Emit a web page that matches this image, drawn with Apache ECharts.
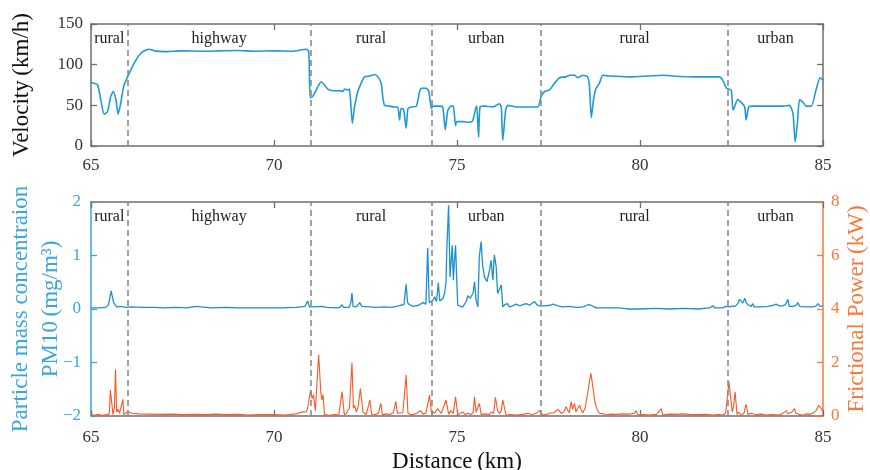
<!DOCTYPE html>
<html>
<head>
<meta charset="utf-8">
<script src="https://cdn.jsdelivr.net/npm/echarts@6/dist/echarts.min.js"></script>
<style>
  html, body { margin: 0; padding: 0; background: #fff; }
  #chart { width: 870px; height: 470px; }
</style>
</head>
<body>
<div id="chart"></div>
<script>
// Driving segments along the route (km) and their labels
const segmentBounds = [66.0, 71.0, 74.3, 77.3, 82.4];
const segmentNames = ['rural', 'highway', 'rural', 'urban', 'rural', 'urban'];
const xTicks = [65, 70, 75, 80, 85];

// Vehicle velocity (km/h) against distance (km)
const velDist = [65.0, 65.18, 65.27, 65.36, 65.45, 65.54, 65.61, 65.68, 65.74, 65.81, 65.89, 66.0, 66.18, 66.36, 66.5, 66.59, 66.73, 67.0, 67.5, 68.0, 68.5, 69.0, 69.5, 70.0, 70.5, 70.88, 70.95, 70.99,
  71.06, 71.2, 71.29, 71.38, 71.47, 71.61, 71.79, 71.88, 71.93, 72.02, 72.06, 72.09, 72.14, 72.2, 72.29, 72.38, 72.47, 72.61, 72.75, 72.84, 72.93, 72.97, 73.02, 73.16, 73.29, 73.38, 73.43, 73.47, 73.54, 73.61, 73.66, 73.75, 73.89, 73.98, 74.02, 74.16, 74.23, 74.3,
  74.34, 74.52, 74.61, 74.68, 74.75, 74.84, 74.9, 74.96, 74.99, 75.16, 75.34, 75.43, 75.51, 75.54, 75.59, 75.63, 75.75, 75.98, 76.16, 76.21, 76.25, 76.33, 76.39, 76.62, 76.98, 77.21,
  77.3, 77.39, 77.53, 77.66, 77.8, 77.98, 78.07, 78.21, 78.3, 78.44, 78.57, 78.62, 78.67, 78.73, 78.8, 78.89, 78.98, 79.17, 79.71, 80.2, 80.62, 81.1, 81.53, 82.17, 82.26, 82.36,
  82.49, 82.54, 82.58, 82.67, 82.76, 82.86, 82.9, 82.97, 83.08, 83.35, 83.9, 84.08, 84.18, 84.24, 84.3, 84.36, 84.45, 84.54, 84.68, 84.81, 84.92, 85.0];
const velKmh = [78, 75, 56, 39, 42, 61, 67, 57, 39, 52, 73, 85, 102, 114, 118, 119, 117, 116, 117, 116.5, 117, 117.5, 116.5, 117, 116.5, 119, 116, 59,
  61, 73, 79, 75, 70, 68, 68, 67, 70, 69, 70, 57, 28, 48, 67, 77, 85, 86, 88, 85, 77, 61, 50, 49, 48, 48, 32, 46, 45, 22, 46, 48, 49, 67, 71, 71, 67, 46,
  49, 49, 48, 20, 44, 49, 49, 25, 30, 30, 29, 31, 46, 49, 11, 48, 49, 48, 52, 48, 7, 44, 50, 48, 48, 48,
  61, 67, 69, 77, 84, 85, 87, 87, 84, 87, 85, 73, 35, 57, 71, 77, 87, 86, 85, 86, 87, 85.5, 85, 85, 81, 71,
  69, 44, 48, 57, 54, 48, 32, 48, 49, 49, 49, 50, 40, 5, 28, 57, 54, 49, 49, 69, 84, 81];

// Particle mass concentration PM10 (mg/m³)
const pmDist = [65.0, 65.2, 65.4, 65.48, 65.55, 65.62, 65.7, 65.8, 65.95, 66.1, 66.4, 66.7, 67.0, 67.3, 67.6, 67.9, 68.0, 68.3, 68.7, 69.0, 69.4, 69.8, 70.2, 70.6, 70.85, 70.92, 70.97,
  71.1, 71.3, 71.45, 71.7, 71.8, 71.86, 71.9, 72.05, 72.1, 72.13, 72.16, 72.25, 72.34, 72.4, 72.6, 72.8, 73.0, 73.2, 73.35, 73.45, 73.55, 73.61, 73.65, 73.7, 73.8, 73.95, 74.07, 74.15, 74.2, 74.24, 74.28,
  74.34, 74.39, 74.44, 74.49, 74.53, 74.57, 74.62, 74.66, 74.7, 74.72, 74.77, 74.81, 74.84, 74.87, 74.9, 74.93, 74.96, 74.99, 75.02, 75.1, 75.16, 75.25, 75.3, 75.32, 75.36, 75.39, 75.44, 75.48, 75.52, 75.57,
  75.61, 75.66, 75.7, 75.75, 75.82, 75.89, 75.93, 75.98, 76.02, 76.07, 76.11, 76.16, 76.21, 76.25, 76.3, 76.34, 76.38, 76.43, 76.52, 76.62, 76.71, 76.8, 76.89, 76.98, 77.12, 77.18, 77.25,
  77.4, 77.55, 77.62, 77.75, 77.89, 78.05, 78.16, 78.3, 78.45, 78.58, 78.62, 78.66, 78.72, 78.8, 79.0, 79.2, 79.44, 79.48, 79.55, 79.7, 80.0, 80.4, 80.8, 81.2, 81.6, 81.9, 81.99, 82.05, 82.26, 82.35, 82.4, 82.47,
  82.54, 82.6, 82.67, 82.72, 82.76, 82.81, 82.86, 82.9, 82.95, 83.04, 83.08, 83.12, 83.25, 83.35, 83.5, 83.65, 83.72, 83.8, 83.9, 83.97, 84.04, 84.08, 84.2, 84.28, 84.31, 84.36, 84.5, 84.72, 84.82, 84.86, 84.92, 85.0];
const pmVal = [0.02, 0.02, 0.03, 0.08, 0.34, 0.12, 0.04, 0.05, 0.03, 0.04, 0.03, 0.03, 0.02, 0.03, 0.02, 0.05, 0.04, 0.02, 0.03, 0.02, 0.02, 0.02, 0.02, 0.03, 0.05, 0.15, 0.04,
  0.04, 0.05, 0.03, 0.02, 0.03, 0.08, 0.03, 0.03, 0.12, 0.30, 0.05, 0.04, 0.12, 0.05, 0.04, 0.03, 0.04, 0.03, 0.05, 0.07, 0.08, 0.46, 0.12, 0.08, 0.05, 0.07, 0.12, 0.09, 1.14, 0.12, 0.10,
  0.16, 0.23, 0.14, 0.49, 0.15, 0.17, 0.20, 0.29, 0.50, 1.07, 1.94, 0.60, 0.62, 1.19, 0.54, 0.90, 1.19, 0.60, 0.07, 0.05, 0.04, 0.14, 0.25, 0.26, 0.20, 0.17, 0.30, 0.51, 0.17, 0.04,
  0.98, 1.26, 0.82, 0.60, 0.51, 0.73, 0.91, 0.54, 1.01, 0.79, 0.29, 0.26, 0.45, 0.04, 0.08, 0.06, 0.10, 0.04, 0.06, 0.09, 0.06, 0.08, 0.10, 0.07, 0.14, 0.08, 0.06,
  0.06, 0.07, 0.09, 0.06, 0.04, 0.05, 0.04, 0.03, 0.04, 0.08, 0.11, 0.07, 0.05, 0.02, 0.02, 0.02, 0.02, 0.04, 0.01, 0.0, 0.0, 0.01, 0.0, 0.01, 0.0, 0.02, 0.06, 0.02, 0.02, 0.05, 0.07, 0.04,
  0.06, 0.05, 0.10, 0.18, 0.20, 0.11, 0.20, 0.12, 0.08, 0.05, 0.10, 0.04, 0.04, 0.04, 0.05, 0.07, 0.09, 0.06, 0.06, 0.08, 0.18, 0.05, 0.05, 0.08, 0.12, 0.05, 0.04, 0.04, 0.06, 0.10, 0.05, 0.06];

// Frictional (brake) power (kW)
const powDist = [65.0, 65.1, 65.2, 65.3, 65.4, 65.5, 65.53, 65.56, 65.6, 65.64, 65.67, 65.7, 65.74, 65.78, 65.82, 65.87, 65.9, 66.0, 66.13, 66.3, 66.6, 66.9, 67.2, 67.5, 67.8, 68.1, 68.4, 68.7, 69.0, 69.3, 69.6, 69.96, 70.3, 70.6,
  70.79, 70.88, 70.92, 70.97, 71.0, 71.04, 71.08, 71.13, 71.22, 71.28, 71.31, 71.34, 71.38, 71.5, 71.65, 71.77, 71.86, 71.92, 71.98, 72.01, 72.06, 72.13, 72.17, 72.2, 72.25, 72.3, 72.36, 72.43, 72.52, 72.62, 72.67,
  72.79, 72.85, 72.92, 72.96, 73.05, 73.16, 73.26, 73.33, 73.37, 73.41, 73.52, 73.61, 73.66, 73.75, 73.84, 73.92, 74.0, 74.07, 74.15, 74.25, 74.31, 74.34, 74.4, 74.43, 74.47, 74.52, 74.57, 74.61, 74.7, 74.77,
  74.83, 74.9, 74.96, 75.02, 75.1, 75.16, 75.22, 75.29, 75.38, 75.44, 75.48, 75.52, 75.57, 75.61, 75.66, 75.8, 75.88, 75.93, 76.0, 76.05, 76.11, 76.16, 76.21, 76.25, 76.3, 76.34, 76.45, 76.62, 76.8, 76.94,
  77.05, 77.16, 77.25, 77.34, 77.45, 77.53, 77.65, 77.76, 77.85, 77.92, 77.98, 78.03, 78.07, 78.12, 78.16, 78.21, 78.25, 78.3, 78.35, 78.4, 78.44, 78.5, 78.57, 78.62, 78.66, 78.71, 78.76, 78.8, 78.85, 78.89,
  79.0, 79.07, 79.2, 79.35, 79.5, 79.7, 79.85, 79.9, 79.94, 80.1, 80.26, 80.45, 80.58, 80.62, 80.8, 81.0, 81.16, 81.35, 81.6, 81.8, 81.98, 82.15, 82.26, 82.34, 82.38, 82.43, 82.46, 82.48, 82.52, 82.56, 82.6,
  82.65, 82.7, 82.76, 82.84, 82.9, 82.95, 83.05, 83.17, 83.3, 83.45, 83.6, 83.81, 83.9, 84.0, 84.04, 84.08, 84.15, 84.22, 84.26, 84.31, 84.38, 84.45, 84.55, 84.63, 84.72, 84.81, 84.88, 84.95, 85.0];
const powKw = [0.05, 0.03, 0.06, 0.02, 0.05, 0.08, 0.97, 0.9, 0.05, 0.3, 1.74, 0.15, 0.25, 0.1, 0.15, 0.62, 0.05, 0.16, 0.1, 0.08, 0.07, 0.06, 0.07, 0.05, 0.06, 0.05, 0.07, 0.05, 0.06, 0.04, 0.05, 0.05, 0.04, 0.08,
  0.16, 0.15, 0.3, 0.72, 0.97, 0.65, 0.8, 0.2, 2.29, 0.87, 0.6, 0.8, 0.05, 0.03, 0.05, 0.04, 0.91, 0.05, 0.1, 0.2, 0.28, 1.99, 0.3, 0.4, 0.15, 0.35, 1.03, 0.15, 0.05, 0.6, 0.04,
  0.06, 0.1, 0.47, 0.04, 0.08, 0.06, 0.12, 0.55, 0.1, 0.06, 0.12, 1.53, 0.1, 0.05, 0.07, 0.12, 0.2, 0.07, 0.1, 0.78, 0.03, 0.16, 0.1, 0.2, 0.28, 0.25, 0.1, 0.06, 0.6, 0.07,
  0.2, 0.1, 0.72, 0.06, 0.1, 0.16, 0.05, 0.1, 0.06, 0.12, 0.72, 0.14, 0.1, 0.47, 0.06, 0.08, 0.05, 0.15, 0.1, 0.7, 0.2, 0.1, 0.2, 0.6, 0.54, 0.03, 0.05, 0.04, 0.06, 0.1,
  0.05, 0.1, 0.2, 0.04, 0.06, 0.1, 0.12, 0.25, 0.1, 0.15, 0.35, 0.2, 0.12, 0.54, 0.25, 0.47, 0.15, 0.3, 0.4, 0.2, 0.12, 0.3, 0.85, 1.3, 1.6, 1.1, 0.6, 0.35, 0.2, 0.1,
  0.08, 0.04, 0.07, 0.06, 0.08, 0.07, 0.1, 0.2, 0.04, 0.05, 0.04, 0.06, 0.28, 0.04, 0.07, 0.06, 0.08, 0.06, 0.05, 0.06, 0.04, 0.05, 0.04, 0.1, 0.06, 1.28, 0.9, 0.85, 0.15, 0.4, 0.9,
  0.06, 0.15, 0.03, 0.1, 0.44, 0.06, 0.1, 0.05, 0.07, 0.04, 0.05, 0.04, 0.1, 0.2, 0.08, 0.06, 0.15, 0.28, 0.1, 0.12, 0.05, 0.03, 0.08, 0.06, 0.1, 0.2, 0.4, 0.28, 0.16];

const zip = (xs, ys) => xs.map((x, i) => [x, ys[i]]);

const SERIF = '"Liberation Serif", "DejaVu Serif", serif';
const GREY = '#6e6e6e';
const BLUE_AXIS = '#3aa5de';
const ORANGE_AXIS = '#f57a3a';
const minus = v => String(v).replace('-', '\u2212');

// Boundaries as dashed verticals, segment names as transparent bands with top labels
const edges = [65].concat(segmentBounds, [85]);
const bands = segmentNames.map((name, i) => [
  { xAxis: edges[i], name: name },
  { xAxis: edges[i + 1] }
]);
const markLine = {
  silent: true, symbol: 'none', animation: false,
  label: { show: false },
  lineStyle: { color: '#8a8a8a', type: [6, 4], width: 1.6 },
  data: segmentBounds.map(b => ({ xAxis: b }))
};
const markArea = {
  silent: true, animation: false,
  itemStyle: { color: 'rgba(0,0,0,0)' },
  label: { show: true, position: 'insideTop', distance: 7, color: '#222', fontFamily: SERIF, fontSize: 16 },
  data: bands
};

function xAxisPair(gridIndex, showLabels, labelMargin) {
  const common = {
    type: 'value', gridIndex: gridIndex, min: 65, max: 85, interval: 5,
    axisLine: { onZero: false, lineStyle: { color: GREY, width: 1.5 } },
    axisTick: { inside: true, length: 6, lineStyle: { color: GREY, width: 1.3 } },
    splitLine: { show: false }
  };
  return [
    Object.assign({}, common, {
      position: 'bottom',
      axisLabel: { show: true, color: '#333', fontFamily: SERIF, fontSize: 17, margin: labelMargin,
        customValues: xTicks },
      name: showLabels ? 'Distance\u2009(km)' : '',
      nameLocation: 'middle', nameGap: 34, nameMoveOverlap: false,
      nameTextStyle: { color: '#111', fontFamily: SERIF, fontSize: 23 }
    }),
    Object.assign({}, common, { position: 'top', axisLabel: { show: false } })
  ];
}

const option = {
  animation: false,
  backgroundColor: '#fff',
  grid: [
    { left: 91, top: 24, width: 732, height: 122, containLabel: false, outerBoundsMode: 'none' },
    { left: 91, top: 202, width: 732, height: 214, containLabel: false, outerBoundsMode: 'none' }
  ],
  xAxis: xAxisPair(0, false, 11).concat(xAxisPair(1, true, 13)),
  yAxis: [
    {
      type: 'value', gridIndex: 0, position: 'left', min: 0, max: 150, interval: 50,
      axisLine: { show: true, lineStyle: { color: GREY, width: 1.5 } },
      axisTick: { show: true, inside: true, length: 6, lineStyle: { color: GREY, width: 1.3 } },
      axisLabel: { color: '#333', fontFamily: SERIF, fontSize: 17, margin: 8 },
      splitLine: { show: false },
      name: 'Velocity\u2009(km/h)', nameLocation: 'middle', nameRotate: 90, nameGap: 58, nameMoveOverlap: false,
      nameTextStyle: { color: '#111', fontFamily: SERIF, fontSize: 23 }
    },
    {
      type: 'value', gridIndex: 0, position: 'right', min: 0, max: 150, interval: 50,
      axisLine: { show: true, lineStyle: { color: GREY, width: 1.5 } },
      axisTick: { show: true, inside: true, length: 6, lineStyle: { color: GREY, width: 1.3 } },
      axisLabel: { show: false }, splitLine: { show: false }
    },
    {
      type: 'value', gridIndex: 1, position: 'left', min: -2, max: 2, interval: 1,
      axisLine: { show: true, onZero: false, lineStyle: { color: BLUE_AXIS, width: 1.5 } },
      axisTick: { show: true, inside: true, length: 6, lineStyle: { color: BLUE_AXIS, width: 1.3 } },
      axisLabel: { color: BLUE_AXIS, fontFamily: SERIF, fontSize: 17, margin: 10, formatter: minus },
      splitLine: { show: false },
      name: 'Particle mass concentraion\nPM10\u2009(mg/m\u00b3)', nameLocation: 'middle', nameRotate: 90, nameGap: 25, nameMoveOverlap: false,
      nameTextStyle: { color: BLUE_AXIS, fontFamily: SERIF, fontSize: 23, lineHeight: 30 }
    },
    {
      type: 'value', gridIndex: 1, position: 'right', min: 0, max: 8, interval: 2,
      axisLine: { show: true, onZero: false, lineStyle: { color: ORANGE_AXIS, width: 1.5 } },
      axisTick: { show: true, inside: true, length: 6, lineStyle: { color: ORANGE_AXIS, width: 1.3 } },
      axisLabel: { color: ORANGE_AXIS, fontFamily: SERIF, fontSize: 17, margin: 8 },
      splitLine: { show: false },
      name: 'Frictional Power\u2009(kW)', nameLocation: 'middle', nameRotate: 90, nameGap: 22, nameMoveOverlap: false,
      nameTextStyle: { color: ORANGE_AXIS, fontFamily: SERIF, fontSize: 23 }
    }
  ],
  series: [
    {
      name: 'Velocity', type: 'line', xAxisIndex: 0, yAxisIndex: 0,
      data: zip(velDist, velKmh), showSymbol: false, smooth: 0.2,
      lineStyle: { color: '#1f9ad8', width: 1.6 },
      markLine: markLine, markArea: markArea
    },
    {
      name: 'Frictional power', type: 'line', xAxisIndex: 2, yAxisIndex: 3,
      data: zip(powDist, powKw), showSymbol: false,
      lineStyle: { color: '#ff5522', width: 1.1 }
    },
    {
      name: 'PM10', type: 'line', xAxisIndex: 2, yAxisIndex: 2,
      data: zip(pmDist, pmVal), showSymbol: false,
      lineStyle: { color: '#1b90d2', width: 1.3 },
      markLine: markLine, markArea: markArea
    }
  ]
};

const chart = echarts.init(document.getElementById('chart'), null, { renderer: 'canvas' });
chart.setOption(option);
</script>
</body>
</html>
